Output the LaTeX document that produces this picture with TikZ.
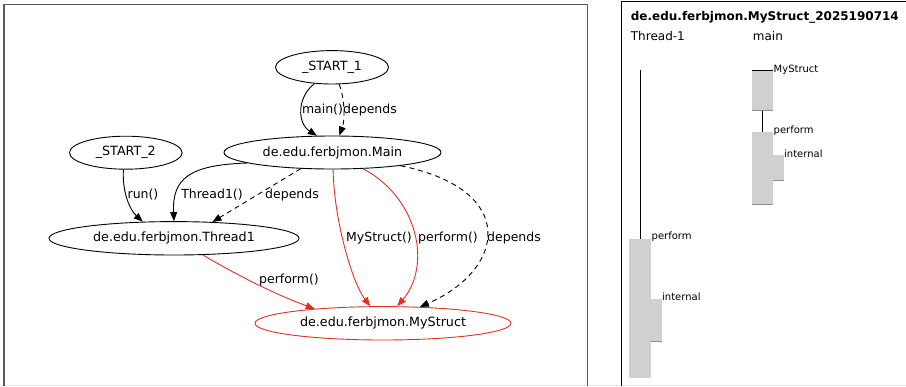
\documentclass[tikz,border=0pt]{standalone}
\usepackage{fontspec}
\setmainfont{DejaVu Sans}
\usetikzlibrary{shapes.geometric,arrows.meta}
\definecolor{edgered}{RGB}{226,48,34}
\definecolor{boxgray}{RGB}{208,208,208}
\definecolor{boxedge}{RGB}{140,140,140}
\definecolor{framegray}{RGB}{90,90,90}
\definecolor{faint}{RGB}{232,232,232}
\begin{document}
\begin{tikzpicture}[x=1pt,y=-1pt,
  gnode/.style={ellipse,draw,line width=0.9pt,inner sep=0pt,font=\fontsize{12.7}{14}\selectfont},
  elabel/.style={anchor=base,inner sep=0pt,font=\fontsize{12.5}{14}\selectfont},
  gedge/.style={line width=0.9pt,-{Triangle[length=9pt,width=7pt]}},
  dep/.style={gedge,dash pattern=on 5pt off 4pt},
  redge/.style={gedge,draw=edgered},
  plabel/.style={anchor=base west,inner sep=0pt,font=\fontsize{12}{14}\selectfont},
  slabel/.style={anchor=base west,inner sep=0pt,font=\fontsize{10}{12}\selectfont},
  actbox/.style={fill=boxgray},
  boxline/.style={draw=boxedge,line width=0.8pt},
  lifeline/.style={draw=black,line width=0.8pt}
]
\useasboundingbox (0,0) rectangle (906,386);
% frames
\draw[faint,line width=0.8pt] (0,385.5) -- (906,385.5);
\draw[framegray,line width=1.4pt] (4,386) -- (4,4.3) -- (587.3,4.3) -- (587.3,386);
\draw[black,line width=0.8pt] (621.7,386) -- (621.7,1) -- (906,1);

% graph nodes
\node[gnode,minimum width=113pt,minimum height=33.4pt] (s1) at (332,67.3) {\_START\_1};
\node[gnode,minimum width=217pt,minimum height=33pt] (main) at (332.5,152.5) {de.edu.ferbjmon.Main};
\node[gnode,minimum width=112.6pt,minimum height=33pt] (s2) at (125.8,152.7) {\_START\_2};
\node[gnode,minimum width=250pt,minimum height=33.4pt] (t1) at (174,238.3) {de.edu.ferbjmon.Thread1};
\node[gnode,draw=edgered,minimum width=256pt,minimum height=33.4pt] (ms) at (383,323.3) {de.edu.ferbjmon.MyStruct};

% edges
\draw[gedge] (s1.223) .. controls (297,97) and (297,123) .. (main.133);
\draw[dep] (s1.293) .. controls (345,100) and (345,120) .. (main.68);
\draw[gedge] (s2.262) .. controls (122,192) and (130,210) .. (t1.152);
\draw[gedge] (main.187) .. controls (190,165) and (172,178) .. (t1.90);
\draw[dep] (main.207) .. controls (272,186) and (242,204) .. (t1.23);
\draw[redge] (main.272) .. controls (334,220) and (352,282) .. (ms.127);
\draw[redge] (main.332) .. controls (418,198) and (432,265) .. (ms.50);
\draw[dep] (main.349) .. controls (520,190) and (505,270) .. (ms.24);
\draw[redge] (t1.330) .. controls (238.5,276) and (276.8,295) .. (ms.168);

% edge labels
\node[elabel] (l1) at (322.5,113) {main()};
\node[elabel] (l2) at (370,113) {depends};
\node[elabel] (l3) at (143,198.5) {run()};
\node[elabel] (l4) at (212,198.5) {Thread1()};
\node[elabel] (l5) at (292,198.5) {depends};
\node[elabel] (l6) at (379,241.5) {MyStruct()};
\node[elabel] (l7) at (448,241.5) {perform()};
\node[elabel] (l8) at (514,241.5) {depends};
\node[elabel] (l9) at (289,283.5) {perform()};

% sequence panel
\node[anchor=base west,inner sep=0pt,font=\bfseries\fontsize{12}{14}\selectfont] (title) at (630.7,20) {de.edu.ferbjmon.MyStruct\_2025190714};
\node[plabel] (th) at (630.7,40) {Thread-1};
\node[plabel] (mn) at (752.7,40) {main};

% main lifeline
\fill[actbox] (751.7,70.3) rectangle (773,110.7);
\draw[boxline] (751.7,110.7) -- (773,110.7);
\draw[lifeline] (751.7,70.3) -- (773,70.3);
\draw[lifeline] (762.3,110.7) -- (762.3,132);
\fill[actbox] (751.7,132) rectangle (773,204);
\draw[boxline] (751.7,204) -- (773,204);
\fill[actbox] (773,155) rectangle (783.7,180.7);
\draw[boxline] (773,180.7) -- (783.7,180.7);
\node[slabel] (m1) at (773.5,72.5) {MyStruct};
\node[slabel] (m2) at (773.5,133) {perform};
\node[slabel] (m3) at (784,157) {internal};

% Thread-1 lifeline
\draw[lifeline] (640.7,70.3) -- (640.7,239);
\fill[actbox] (629.3,239) rectangle (651.3,378);
\fill[actbox] (651.3,298.7) rectangle (661.7,341.3);
\draw[boxline] (651.3,341.3) -- (661.7,341.3);
\node[slabel] (t1p) at (651.5,239.5) {perform};
\node[slabel] (t1i) at (662,300.5) {internal};
\end{tikzpicture}
\end{document}
